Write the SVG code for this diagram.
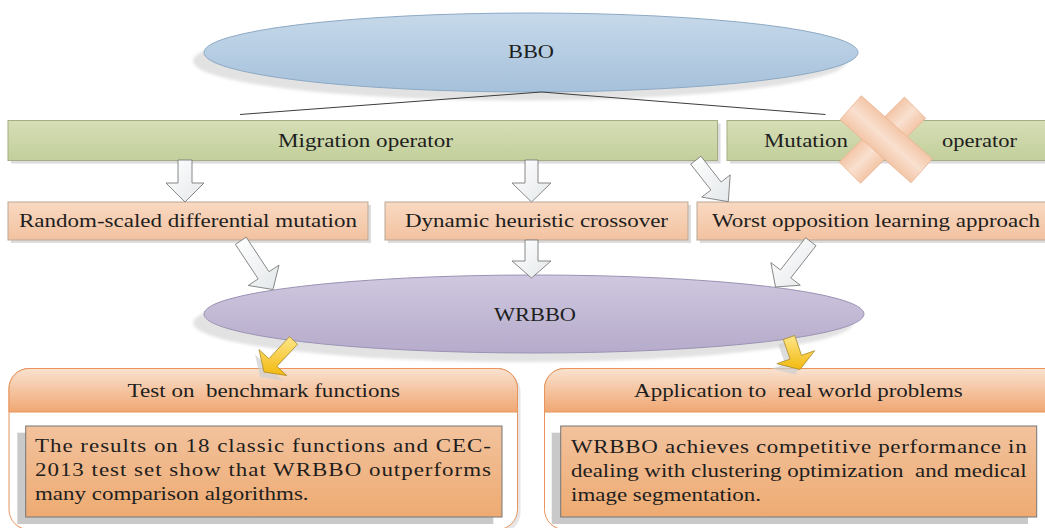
<svg xmlns="http://www.w3.org/2000/svg" width="1045" height="528" viewBox="0 0 1045 528">
<defs>
<linearGradient id="gBlue" x1="0" y1="0" x2="0" y2="1"><stop offset="0" stop-color="#c6d9ea"/><stop offset="1" stop-color="#a6c1db"/></linearGradient>
<linearGradient id="gPurple" x1="0" y1="0" x2="0" y2="1"><stop offset="0" stop-color="#cfc8df"/><stop offset="1" stop-color="#b6abcb"/></linearGradient>
<linearGradient id="gGreen" x1="0" y1="0" x2="0" y2="1"><stop offset="0" stop-color="#d6deb6"/><stop offset="1" stop-color="#c3cf9b"/></linearGradient>
<linearGradient id="gPeach" x1="0" y1="0" x2="0" y2="1"><stop offset="0" stop-color="#f9d9c2"/><stop offset="1" stop-color="#f2c2a0"/></linearGradient>
<linearGradient id="gCross" x1="0" y1="0" x2="0" y2="1"><stop offset="0" stop-color="#f3c6a8"/><stop offset="0.5" stop-color="#f9e0cf"/><stop offset="1" stop-color="#f3c6a8"/></linearGradient>
<linearGradient id="gHead" x1="0" y1="0" x2="0" y2="1"><stop offset="0" stop-color="#f9e2d0"/><stop offset="1" stop-color="#f0a772"/></linearGradient>
<linearGradient id="gInner" x1="0" y1="0" x2="0" y2="1"><stop offset="0" stop-color="#f2c29d"/><stop offset="1" stop-color="#eeab72"/></linearGradient>
<linearGradient id="gWhite" x1="0" y1="0" x2="1" y2="1"><stop offset="0" stop-color="#ffffff"/><stop offset="1" stop-color="#e4e8ea"/></linearGradient>
<linearGradient id="gYellow" x1="0" y1="0" x2="0" y2="1"><stop offset="0" stop-color="#fde68a"/><stop offset="1" stop-color="#f3b90e"/></linearGradient>
<filter id="blur" x="-5%" y="-20%" width="110%" height="140%"><feGaussianBlur stdDeviation="1.5"/></filter>
</defs>
<style>
.t{font-family:"Liberation Serif","Times New Roman",serif;font-size:18px;fill:#1e1e1e}
.m{text-anchor:middle}
.pre{white-space:pre}
.shadowE{fill:#e2e2e2}
.boxG{fill:url(#gGreen);stroke:#a3ae86;stroke-width:1}
.boxP{fill:url(#gPeach);stroke:#b9a898;stroke-width:1}
.sh{fill:#dcdcdc}
.panel{fill:#ffffff;stroke:#e8945c;stroke-width:1}
.head{fill:url(#gHead);stroke:#e8945c;stroke-width:1}
.inner{fill:url(#gInner);stroke:#767676;stroke-width:1}
.innerSh{fill:#c9c9c9}
.wa{fill:url(#gWhite);stroke:#7a7a7a;stroke-width:0.9}
.ya{fill:url(#gYellow);stroke:#a88a2a;stroke-width:0.8}
.yash{fill:#cfcfcf;opacity:0.7}
.ln{stroke:#3c3c3c;stroke-width:1;fill:none}
.cross{fill:url(#gCross);stroke:#ebb592;stroke-width:0.8}
</style>

<g id="node-bbo">
<ellipse class="shadowE" cx="520" cy="61" rx="327" ry="39.5" filter="url(#blur)"/>
<ellipse cx="531" cy="52.5" rx="327" ry="39.5" fill="url(#gBlue)" stroke="#8ea9c4" stroke-width="1"/>
<text class="t m" x="531" y="57.5" textLength="46" lengthAdjust="spacingAndGlyphs">BBO</text>
</g>

<g id="node-migration">
<rect class="sh" x="11" y="123.5" width="709.5" height="40"/>
<rect class="boxG" x="8" y="120.5" width="709.5" height="40"/>
<text class="t m" x="365.5" y="147" textLength="175" lengthAdjust="spacingAndGlyphs">Migration operator</text>
</g>

<g id="node-mutation">
<rect class="sh" x="730" y="123.5" width="330" height="40"/>
<rect class="boxG" x="727" y="120.5" width="330" height="40"/>
<text class="t m" x="806" y="147" textLength="84" lengthAdjust="spacingAndGlyphs">Mutation</text>
<text class="t m" x="979.5" y="147" textLength="75" lengthAdjust="spacingAndGlyphs">operator</text>
<rect class="cross" x="-46" y="-15" width="92" height="30" transform="translate(882.5 140.2) rotate(-44.9)"/>
<rect class="cross" x="-47.5" y="-16" width="95" height="32" transform="translate(886.2 139.3) rotate(41.6)"/>
</g>

<g id="node-random">
<rect class="sh" x="11" y="205" width="360" height="38"/>
<rect class="boxP" x="8" y="202" width="360" height="38"/>
<text class="t m" x="188" y="226.5" textLength="338" lengthAdjust="spacingAndGlyphs">Random-scaled differential mutation</text>
</g>

<g id="node-dynamic">
<rect class="sh" x="388" y="205" width="303" height="38"/>
<rect class="boxP" x="385" y="202" width="303" height="38"/>
<text class="t m" x="536.5" y="226.5" textLength="263" lengthAdjust="spacingAndGlyphs">Dynamic heuristic crossover</text>
</g>

<g id="node-worst">
<rect class="sh" x="700" y="205" width="360" height="38"/>
<rect class="boxP" x="697" y="202" width="360" height="38"/>
<text class="t m" x="876" y="226.5" textLength="328" lengthAdjust="spacingAndGlyphs">Worst opposition learning approach</text>
</g>

<g id="node-wrbbo">
<ellipse class="shadowE" cx="523" cy="323" rx="330" ry="39" filter="url(#blur)"/>
<ellipse cx="534" cy="314" rx="330" ry="39" fill="url(#gPurple)" stroke="#9c93b4" stroke-width="1"/>
<text class="t m" x="535" y="321" textLength="82" lengthAdjust="spacingAndGlyphs">WRBBO</text>
</g>

<g id="node-test">
<rect x="12" y="371.5" width="508.5" height="161" rx="20" fill="#e6e6e6"/>
<rect class="panel" x="9" y="368.5" width="508.5" height="161" rx="20"/>
<path class="head" d="M9 412 V388.5 A20 20 0 0 1 29 368.5 H497.5 A20 20 0 0 1 517.5 388.5 V412 Z"/>
<text class="t m pre" x="263.8" y="397" textLength="272.4" lengthAdjust="spacingAndGlyphs">Test on  benchmark functions</text>
<rect class="innerSh" x="17.3" y="432.7" width="476" height="91.3"/>
<rect class="inner" x="25.7" y="426" width="476.3" height="91"/>
<text class="t" transform="matrix(1.277 0 0 1 35 452)" textLength="357.1" lengthAdjust="spacing">The results on 18 classic functions and CEC-</text>
<text class="t" transform="matrix(1.277 0 0 1 35 476)" textLength="357.1" lengthAdjust="spacing">2013 test set show that WRBBO outperforms</text>
<text class="t" transform="matrix(1.277 0 0 1 35 500)">many comparison algorithms.</text>
</g>

<g id="node-application">
<rect x="547.5" y="371.5" width="520" height="161" rx="20" fill="#e6e6e6"/>
<rect class="panel" x="544.5" y="368.5" width="520" height="161" rx="20"/>
<path class="head" d="M544.5 412 V388.5 A20 20 0 0 1 564.5 368.5 H1064.5 V412 Z"/>
<text class="t m pre" x="798.4" y="397" textLength="328.7" lengthAdjust="spacingAndGlyphs">Application to  real world problems</text>
<rect class="innerSh" x="551.7" y="432.7" width="476.3" height="91.3"/>
<rect class="inner" x="560.7" y="426" width="476" height="91"/>
<text class="t" transform="matrix(1.277 0 0 1 571 453)" textLength="356.8" lengthAdjust="spacing">WRBBO achieves competitive performance in</text>
<text class="t pre" transform="matrix(1.277 0 0 1 571 477)" textLength="356.8" lengthAdjust="spacing">dealing with clustering optimization  and medical</text>
<text class="t" transform="matrix(1.277 0 0 1 571 500.5)">image segmentation.</text>
</g>

<g id="connectors">
<line class="ln" x1="541.5" y1="92" x2="240" y2="114.5"/>
<line class="ln" x1="541.5" y1="92" x2="825.5" y2="114.5"/>
<polygon class="wa" points="178,160 192,160 192,183 204,183 185,202 166,183 178,183"/>
<polygon class="wa" points="525,160 538,160 538,183 551,183 531.5,202 512,183 525,183"/>
<polygon class="wa" points="700.9,156.2 721.1,182 730.2,174.9 728.3,201.7 701.8,197.1 710.9,190 690.7,164.2"/>
<polygon class="wa" points="246.2,237.2 269,271.7 279,265.1 273,289.5 248.2,285.5 258.2,278.9 235.4,244.4"/>
<polygon class="wa" points="525,240 538,240 538,261 551,261 531.5,278 512,261 525,261"/>
<polygon class="wa" points="816,245.7 790.8,277.9 800.3,285.2 775.5,287 770.9,262.6 780.4,269.9 805.6,237.7"/>
<polygon class="yash" transform="translate(-4 5)" points="297.5,344.3 276.9,366.3 286.8,375.5 264,372 259,349.5 268.9,358.7 289.5,336.7"/>
<polygon class="ya" points="297.5,344.3 276.9,366.3 286.8,375.5 264,372 259,349.5 268.9,358.7 289.5,336.7"/>
<polygon class="yash" transform="translate(-5 5)" points="794.7,335.5 801.5,355.3 814.7,350.7 800,369.5 776.9,363.7 790.1,359.1 783.3,339.5"/>
<polygon class="ya" points="794.7,335.5 801.5,355.3 814.7,350.7 800,369.5 776.9,363.7 790.1,359.1 783.3,339.5"/>
</g>
</svg>
